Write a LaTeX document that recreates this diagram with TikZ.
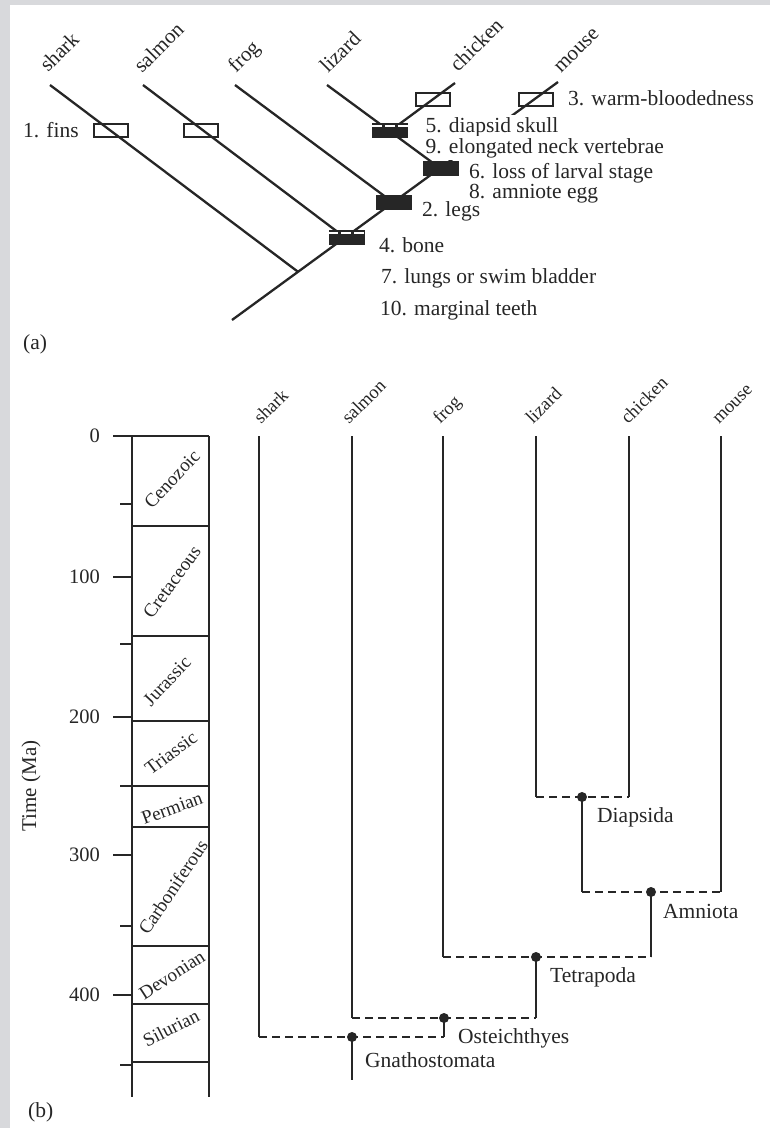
\documentclass[tikz,border=0pt]{standalone}
\usepackage{fontspec}
\setmainfont{Liberation Serif}
\usetikzlibrary{calc}
\definecolor{ink}{HTML}{262626}
\definecolor{framegrey}{HTML}{D8D9DC}
\tikzset{
  branch/.style={draw=ink, line width=2.3pt},
  dashline/.style={draw=ink, line width=1.5pt, dash pattern=on 8pt off 5pt},
  lbl/.style={font=\fontsize{21.5}{24}\selectfont, text=ink, inner sep=0pt, anchor=base west},
  wlbl/.style={lbl, fill=white, inner xsep=0.5pt, inner ysep=2pt},
  taxa/.style={font=\fontsize{21}{23}\selectfont, text=ink, inner sep=0pt, anchor=base west, rotate=45},
  taxb/.style={font=\fontsize{18.5}{20}\selectfont, text=ink, inner sep=0pt, anchor=base west, rotate=45},
  era/.style={font=\fontsize{19}{21}\selectfont, text=ink, inner sep=0pt},
  ticklbl/.style={font=\fontsize{20.5}{22}\selectfont, text=ink, inner sep=0pt, anchor=east},
  obox/.style={draw=ink, line width=2pt, minimum width=34pt, minimum height=13pt, inner sep=0pt},
  bbox/.style={fill=ink, minimum width=36pt, minimum height=15pt, inner sep=0pt},
  stripe/.style={draw=white, line width=2pt, dash pattern=on 10pt off 3pt},
  dot/.style={circle, fill=ink, minimum size=10pt, inner sep=0pt},
  col/.style={draw=ink, line width=2pt},
}
\begin{document}
\begin{tikzpicture}[x=1pt,y=-1pt]
\useasboundingbox (0,0) rectangle (770,1128);
\fill[white] (0,0) rectangle (770,1128);
\fill[framegrey] (0,0) rectangle (770,5);
\fill[framegrey] (0,0) rectangle (10,1128);

%% ---------------- (a) ----------------
\coordinate (R) at (232,320);
\coordinate (tMouse) at (558,82);
\coordinate (jShark) at ($(R)!0.2025!(tMouse)$);
\coordinate (jSalmon) at ($(R)!0.3466!(tMouse)$);
\coordinate (jFrog) at ($(R)!0.4939!(tMouse)$);
\coordinate (jLiz) at ($(R)!0.6380!(tMouse)$);
\coordinate (tShark) at (50,85);
\coordinate (tSalmon) at (143,85);
\coordinate (tFrog) at (235,85);
\coordinate (tLiz) at (327,85);
\coordinate (tChick) at (455,83);
\coordinate (jChick) at ($(tLiz)!0.555!(jLiz)$);

% trunk (root to mouse)
\draw[branch] (R) -- (tMouse);

% character labels (white backed, hide the trunk behind them)
\node[wlbl] (c5) at (425,132) {5. diapsid skull};
\node[wlbl] (c9) at (425,153) {9. elongated neck vertebrae};

% other branches
\draw[branch] (tShark) -- (jShark);
\draw[branch] (tSalmon) -- (jSalmon);
\draw[branch] (tFrog) -- (jFrog);
\draw[branch] (tLiz) -- (jLiz);
\draw[branch] (tChick) -- (jChick);

% taxon names
\node[taxa] (nShark) at ($(tShark)+(-2,-12)$) {shark};
\node[taxa] (nSalmon) at ($(tSalmon)+(-1,-11)$) {salmon};
\node[taxa] (nFrog) at ($(tFrog)+(1,-11)$) {frog};
\node[taxa] (nLiz) at ($(tLiz)+(1,-11)$) {lizard};
\node[taxa] (nChick) at ($(tChick)+(3,-10)$) {chicken};
\node[taxa] (nMouse) at ($(tMouse)+(3,-8)$) {mouse};

% character boxes
\node[obox] (bFinS) at (111,130) {};
\node[obox] (bFinM) at (201,130) {};
\node[obox] (bWarmC) at (433,99) {};
\node[obox] (bWarmM) at (535.5,99) {};
\node[bbox] (b5) at (390,130) {};
\draw[stripe] ([yshift=-3.5pt]b5.north west) -- ([yshift=-3.5pt]b5.north east);
\node[bbox] (b6) at (441,168.5) {};
\node[bbox] (b2) at (394,202.5) {};
\node[bbox] (b4) at (346.5,237.5) {};
\draw[stripe] ([yshift=-3.5pt]b4.north west) -- ([yshift=-3.5pt]b4.north east);

\node[lbl] (c1) at (23,137) {1. fins};
\node[lbl] (c3) at (568,105) {3. warm-bloodedness};
\node[lbl] (c6) at (469,178) {6. loss of larval stage};
\node[lbl] (c8) at (469,198) {8. amniote egg};
\node[lbl] (c2) at (422,216) {2. legs};
\node[lbl] (c4) at (379,252) {4. bone};
\node[lbl] (c7) at (381,283) {7. lungs or swim bladder};
\node[lbl] (c10) at (380,315) {10. marginal teeth};
\node[lbl] (pa) at (23,349) {(a)};

%% ---------------- (b) ----------------
% geological column
\draw[col] (132,436) -- (132,1097);
\draw[col] (209,436) -- (209,1097);
\foreach \yy in {436,526,636,721,786,827,946,1004,1062}
  \draw[col] (132,\yy) -- (209,\yy);
\foreach \yy/\lab in {436/0,577/100,717/200,855/300,995/400}{
  \draw[col] (113,\yy) -- (132,\yy);
  \node[ticklbl] at (100,\yy) {\lab};
}
\foreach \yy in {504,644,786,926,1065}
  \draw[col] (120,\yy) -- (132,\yy);
\node[font=\fontsize{21}{23}\selectfont, text=ink, inner sep=0pt, rotate=90] (tlab) at (31,786) {Time (Ma)};

\node[era, rotate=47] at (172,479) {Cenozoic};
\node[era, rotate=54] at (172,582) {Cretaceous};
\node[era, rotate=47] at (167,681) {Jurassic};
\node[era, rotate=37] at (171,753) {Triassic};
\node[era, rotate=20] at (172,808) {Permian};
\node[era, rotate=56] at (173,887) {Carboniferous};
\node[era, rotate=33] at (172,975) {Devonian};
\node[era, rotate=27] at (171,1028) {Silurian};

% taxa
\coordinate (bShark) at (259,436);
\coordinate (bSalmon) at (352,436);
\coordinate (bFrog) at (443,436);
\coordinate (bLiz) at (536,436);
\coordinate (bChick) at (629,436);
\coordinate (bMouse) at (721,436);
\node[taxb] at ($(bShark)+(2,-11)$) {shark};
\node[taxb] at ($(bSalmon)+(-3,-11)$) {salmon};
\node[taxb] at ($(bFrog)+(-3,-11)$) {frog};
\node[taxb] at ($(bLiz)+(-3,-11)$) {lizard};
\node[taxb] at ($(bChick)+(-1,-11)$) {chicken};
\node[taxb] at ($(bMouse)+(-2,-11)$) {mouse};

% clade nodes
\coordinate (dDia) at (582,797);
\coordinate (dAmn) at (651,892);
\coordinate (dTet) at (536,957);
\coordinate (dOst) at (444,1018);
\coordinate (dGna) at (352,1037);
\coordinate (rootB) at (352,1080);

\draw[branch] (bLiz) -- (bLiz |- dDia);
\draw[branch] (bChick) -- (bChick |- dDia);
\draw[dashline] (bLiz |- dDia) -- (bChick |- dDia);
\draw[branch] (dDia) -- (dDia |- dAmn);

\draw[branch] (bMouse) -- (bMouse |- dAmn);
\draw[dashline] (dDia |- dAmn) -- (bMouse |- dAmn);
\draw[branch] (dAmn) -- (dAmn |- dTet);

\draw[branch] (bFrog) -- (bFrog |- dTet);
\draw[dashline] (bFrog |- dTet) -- (dAmn |- dTet);
\draw[branch] (dTet) -- (dTet |- dOst);

\draw[branch] (bSalmon) -- (bSalmon |- dOst);
\draw[dashline] (bSalmon |- dOst) -- (dTet |- dOst);
\draw[branch] (dOst) -- (dOst |- dGna);

\draw[branch] (bShark) -- (bShark |- dGna);
\draw[dashline] (bShark |- dGna) -- (dOst |- dGna);
\draw[branch] (dGna) -- (rootB);

\node[dot] at (dDia) {};
\node[dot] at (dAmn) {};
\node[dot] at (dTet) {};
\node[dot] at (dOst) {};
\node[dot] at (dGna) {};

\node[lbl] at (597,822) {Diapsida};
\node[lbl] at (663,918) {Amniota};
\node[lbl] at (550,982) {Tetrapoda};
\node[lbl] at (458,1043) {Osteichthyes};
\node[lbl] at (365,1067) {Gnathostomata};
\node[lbl] (pb) at (28,1117) {(b)};
\end{tikzpicture}
\end{document}
